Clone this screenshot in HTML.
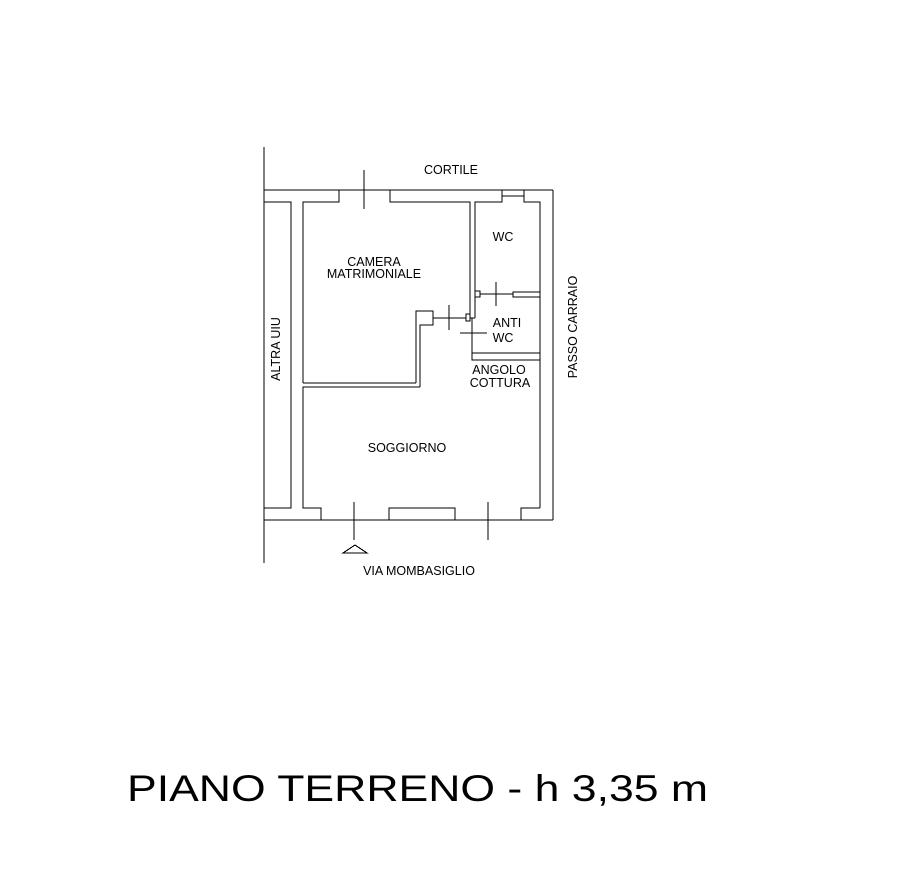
<!DOCTYPE html>
<html><head><meta charset="utf-8"><style>
html,body{margin:0;padding:0;background:#fff;}
svg{display:block}
text{font-family:"Liberation Sans",sans-serif;fill:#000}
</style></head><body>
<svg width="918" height="888" viewBox="0 0 918 888" xmlns="http://www.w3.org/2000/svg">
<g stroke="#000" stroke-width="1" fill="none" shape-rendering="crispEdges">
<line x1="264" y1="147" x2="264" y2="563"/>
<line x1="264" y1="190" x2="553" y2="190"/>
<line x1="553" y1="190" x2="553" y2="520"/>
<line x1="264" y1="520" x2="553" y2="520"/>
<polyline points="264,202 291,202 291,508 264,508"/>
<polyline points="303,383 303,202 339,202 339,190"/>
<polyline points="390,190 390,202 470,202 470,318"/>
<line x1="364" y1="170" x2="364" y2="209"/>
<polyline points="475,318 475,202 502,202 502,190"/>
<polyline points="524,190 524,202 540,202 540,508"/>
<line x1="502" y1="196" x2="524" y2="196"/>
<line x1="470" y1="318" x2="475" y2="318"/>
<line x1="472" y1="318" x2="472" y2="353"/>
<rect x="475" y="291" width="5" height="6"/>
<rect x="513" y="292" width="27" height="5"/>
<line x1="480" y1="294" x2="513" y2="294"/>
<line x1="496" y1="282" x2="496" y2="306"/>
<line x1="460" y1="333" x2="487" y2="333"/>
<polyline points="472,353 540,353"/>
<polyline points="472,353 472,360 540,360"/>
<rect x="466" y="314" width="4" height="7"/>
<line x1="433" y1="318" x2="466" y2="318"/>
<line x1="449" y1="305" x2="449" y2="330"/>
<polyline points="416,383 416,311 433,311 433,325 420,325 420,387"/>
<line x1="303" y1="383" x2="416" y2="383"/>
<polyline points="420,387 303,387 303,508 321,508 321,520"/>
<polyline points="389,520 389,508 455,508 455,520"/>
<polyline points="521,520 521,508 540,508"/>
<line x1="354" y1="502" x2="354" y2="540"/>
<line x1="488" y1="502" x2="488" y2="540"/>
<polygon points="343,553 367,553 355,545"/>
</g>
<g font-size="12.5">
<text x="451" y="174" text-anchor="middle">CORTILE</text>
<text x="374" y="266" text-anchor="middle">CAMERA</text>
<text x="374" y="278" text-anchor="middle">MATRIMONIALE</text>
<text x="503" y="241" text-anchor="middle">WC</text>
<text x="507" y="327" text-anchor="middle">ANTI</text>
<text x="503" y="342" text-anchor="middle">WC</text>
<text x="499" y="374" text-anchor="middle">ANGOLO</text>
<text x="500" y="387" text-anchor="middle">COTTURA</text>
<text x="407" y="452" text-anchor="middle">SOGGIORNO</text>
<text x="419" y="575" text-anchor="middle">VIA MOMBASIGLIO</text>
<text transform="translate(280,349) rotate(-90)" text-anchor="middle">ALTRA UIU</text>
<text transform="translate(577,327) rotate(-90)" text-anchor="middle">PASSO CARRAIO</text>
</g>
<text x="127" y="801" font-size="37" textLength="581" lengthAdjust="spacingAndGlyphs">PIANO TERRENO - h 3,35 m</text>
</svg>
</body></html>
